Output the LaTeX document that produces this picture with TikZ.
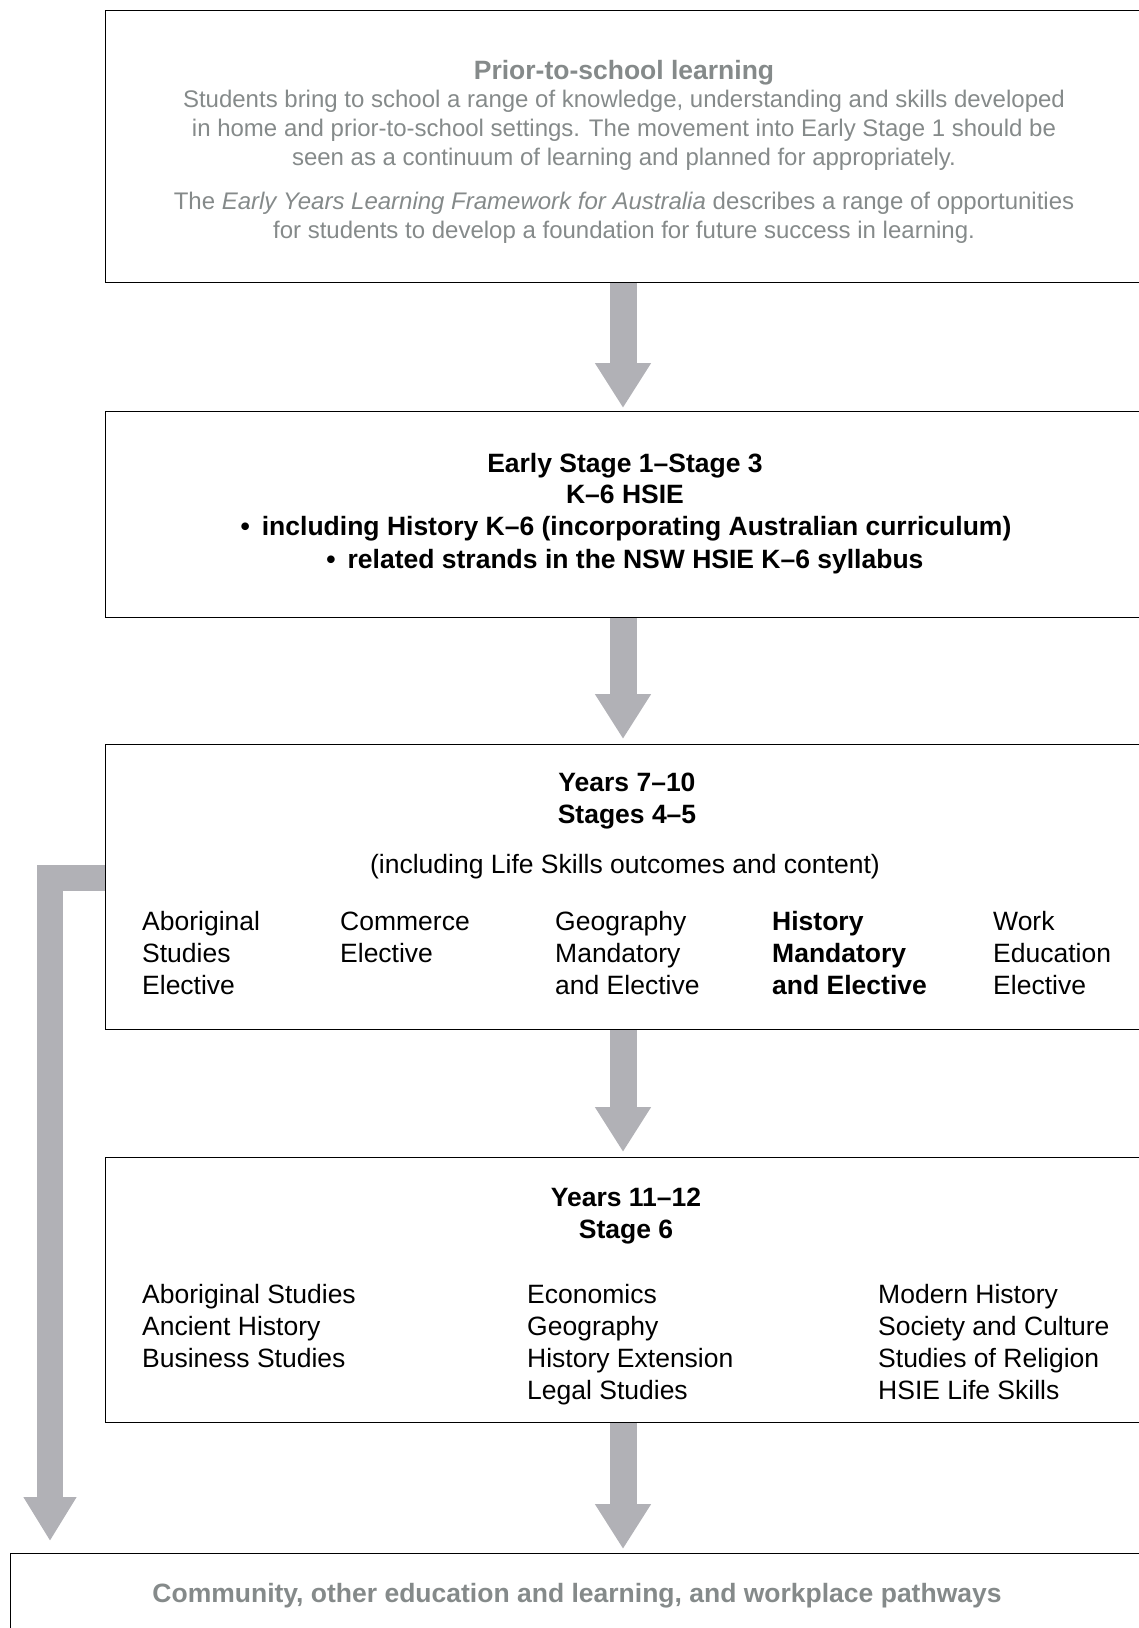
\documentclass[tikz,border=0pt]{standalone}
\usepackage{fontspec}
\setmainfont{Liberation Sans}
\usetikzlibrary{arrows.meta,backgrounds}
\definecolor{txtgray}{RGB}{133,138,138}
\definecolor{arrgray}{RGB}{177,177,182}
\tikzset{
  box/.style={draw=black, line width=1.4pt, anchor=north west, inner sep=0pt},
  fatarrow/.style={draw=arrgray, line width=27pt, line join=miter,
    -{Triangle[width=53pt,length=45pt]}},
  sidearrow/.style={draw=arrgray, line width=26pt, line join=miter,
    -{Triangle[width=50pt,length=44pt]}},
  body/.style={font=\fontsize{24}{29}\selectfont, text=txtgray, anchor=base, inner sep=0pt},
  grtitle/.style={font=\fontsize{26.5}{31}\selectfont\bfseries, text=txtgray, anchor=base, inner sep=0pt},
  bhead/.style={font=\fontsize{26.5}{31}\selectfont\bfseries, text=black, anchor=base, inner sep=0pt},
  cell/.style={font=\fontsize{26.5}{32}\selectfont, text=black, anchor=base west, inner sep=0pt, align=left},
  bcell/.style={cell, font=\fontsize{26.5}{32}\selectfont\bfseries},
}
\begin{document}
\begin{tikzpicture}[x=1pt,y=-1pt]
\useasboundingbox (0,0) rectangle (1139,1628);
\clip (0,0) rectangle (1139,1628);

% boxes
\node[box, minimum width=1050pt, minimum height=272pt] (b1) at (105,10) {};
\node[box, minimum width=1050pt, minimum height=206pt] (b2) at (105,411) {};
\node[box, minimum width=1050pt, minimum height=285pt] (b3) at (105,744) {};
\node[box, minimum width=1050pt, minimum height=265pt] (b4) at (105,1157) {};
\node[box, minimum width=1150pt, minimum height=120pt] (b5) at (10,1553) {};

% arrows
\coordinate (ax) at (623,0);
\coordinate (lk) at (50,878);
\coordinate (lt) at (50,1541);
\begin{pgfonlayer}{background}
\draw[fatarrow] (b1.south -| ax) -- ([yshift=3pt]b2.north -| ax);
\draw[fatarrow] (b2.south -| ax) -- ([yshift=5pt]b3.north -| ax);
\draw[fatarrow] (b3.south -| ax) -- ([yshift=5pt]b4.north -| ax);
\draw[fatarrow] (b4.south -| ax) -- ([yshift=4pt]b5.north -| ax);
\draw[sidearrow] (b3.west |- lk) -- (lk) -- (lt);
\end{pgfonlayer}

% box 1 text
\node[grtitle] (t1) at (624,79.5) {Prior-to-school learning};
\node[body] (t1a) at (624,107.6) {Students bring to school a range of knowledge, understanding and skills developed};
\node[body] (t1b) at (624,136.6) {in home and prior-to-school settings. The movement into Early Stage 1 should be};
\node[body] (t1c) at (624,165.6) {seen as a continuum of learning and planned for appropriately.};
\node[body] (t1d) at (624,209.6) {The \textit{Early Years Learning Framework for Australia} describes a range of opportunities};
\node[body] (t1e) at (624,238.6) {for students to develop a foundation for future success in learning.};

% box 2 text
\node[bhead] (t2a) at (625,472.5) {Early Stage 1–Stage 3};
\node[bhead] (t2b) at (625,503.5) {K–6 HSIE};
\node[bhead] (t2c) at (626,535.5) {•\hspace{0.45em}including History K–6 (incorporating Australian curriculum)};
\node[bhead] (t2d) at (625,568.5) {•\hspace{0.45em}related strands in the NSW HSIE K–6 syllabus};

% box 3 text (cells anchored at the baseline of their last line)
\node[bhead] (t3a) at (627,791.5) {Years 7–10};
\node[bhead] (t3b) at (627,823.5) {Stages 4–5};
\node[body, font=\fontsize{26.5}{31}\selectfont, text=black] (t3c) at (625,873.5) {(including Life Skills outcomes and content)};
\node[cell] (c31) at (142,994.5) {Aboriginal\\Studies\\Elective};
\node[cell] (c32) at (340,962.5) {Commerce\\Elective};
\node[cell] (c33) at (555,994.5) {Geography\\Mandatory\\and Elective};
\node[bcell] (c34) at (772,994.5) {History\\Mandatory\\and Elective};
\node[cell] (c35) at (993,994.5) {Work\\Education\\Elective};

% box 4 text
\node[bhead] (t4a) at (626,1206.5) {Years 11–12};
\node[bhead] (t4b) at (626,1238.5) {Stage 6};
\node[cell] (c41) at (142,1367.5) {Aboriginal Studies\\Ancient History\\Business Studies};
\node[cell] (c42) at (527,1399.5) {Economics\\Geography\\History Extension\\Legal Studies};
\node[cell] (c43) at (878,1399.5) {Modern History\\Society and Culture\\Studies of Religion\\HSIE Life Skills};

% box 5 text
\node[grtitle] (t5) at (577,1602.5) {Community, other education and learning, and workplace pathways};
\end{tikzpicture}
\end{document}
